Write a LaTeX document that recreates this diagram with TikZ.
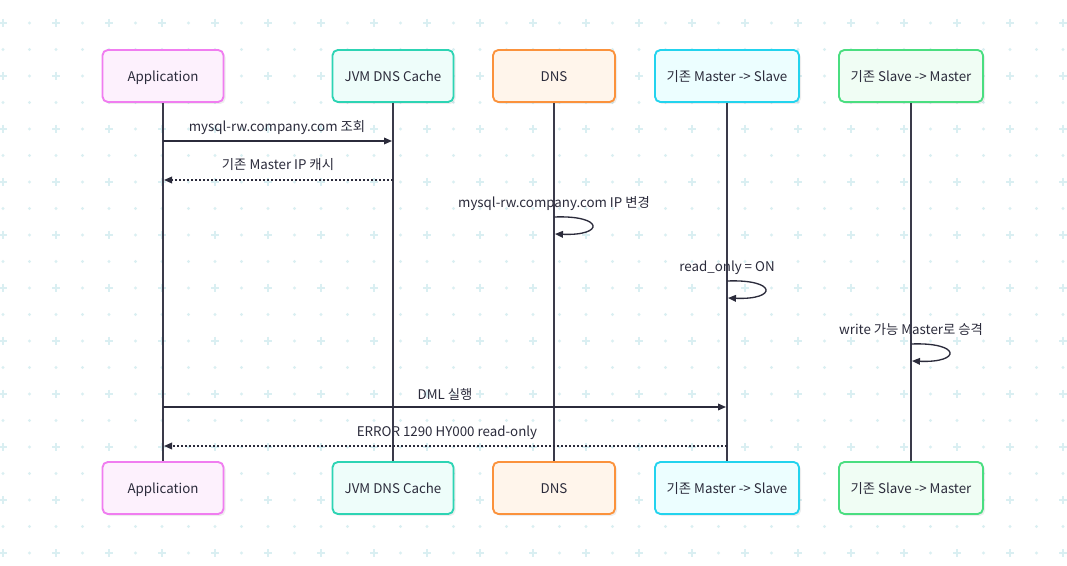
\documentclass[tikz,border=0pt]{standalone}
\usepackage{fontspec}
\setmainfont{Noto Sans CJK KR}
\usetikzlibrary{arrows.meta,shadows}
\definecolor{gridc}{HTML}{DAEFF2}
\definecolor{txt}{HTML}{2B2B3B}
\definecolor{lifec}{HTML}{3A3A4A}
\definecolor{appB}{HTML}{F07DF0}\definecolor{appF}{HTML}{FDF1FD}
\definecolor{jvmB}{HTML}{2DD4B4}\definecolor{jvmF}{HTML}{EEFDFA}
\definecolor{dnsB}{HTML}{FB923C}\definecolor{dnsF}{HTML}{FFF5EB}
\definecolor{msB}{HTML}{22D3EE}\definecolor{msF}{HTML}{ECFEFF}
\definecolor{smB}{HTML}{4ADE80}\definecolor{smF}{HTML}{F0FDF4}
\tikzset{
  actor/.style={draw, line width=1.4pt, rounded corners=4pt, text=txt,
    minimum height=39pt, inner sep=0pt, font=\fontsize{10}{12}\selectfont,
    text depth=0pt, text height=8.5pt,
    drop shadow={shadow xshift=1.5pt, shadow yshift=-1.5pt, fill=black, opacity=0.07}},
  lifeline/.style={draw=lifec, line width=1.2pt},
  msg/.style={draw=txt, line width=1pt, -{Triangle[length=6pt,width=5pt]}},
  reply/.style={msg, dash pattern=on 1.5pt off 1.5pt},
  lbl/.style={text=txt, font=\fontsize{10}{12}\selectfont, inner sep=0pt}
}
\begin{document}
\begin{tikzpicture}[x=0.75pt,y=-0.75pt]
\useasboundingbox (0,0) rectangle (1067,566);
\fill[white] (0,0) rectangle (1067,566);
% background grid
\foreach \i in {0,...,40}{
  \foreach \j in {0,...,20}{
    \pgfmathsetmacro{\px}{3+26.5*\i}
    \pgfmathsetmacro{\py}{23+26.5*\j}
    \pgfmathtruncatemacro{\odd}{mod(\i,2)+mod(\j,2)}
    \ifnum\odd=0
      \draw[gridc, line width=1.2pt] (\px-4,\py) -- (\px+4,\py) (\px,\py-4) -- (\px,\py+4);
    \else
      \fill[gridc] (\px,\py) circle[radius=1.2pt];
    \fi
  }
}
% actors
\node[actor, draw=appB, fill=appF, minimum width=90.75pt] (app) at (163,76) {Application};
\node[actor, draw=jvmB, fill=jvmF, minimum width=90.75pt] (jvm) at (393,76) {JVM DNS Cache};
\node[actor, draw=dnsB, fill=dnsF, minimum width=91.5pt] (dns) at (554,76) {DNS};
\node[actor, draw=msB, fill=msF, minimum width=108pt] (ms) at (727,76) {기존 Master -> Slave};
\node[actor, draw=smB, fill=smF, minimum width=108pt] (sm) at (911,76) {기존 Slave -> Master};
\node[actor, draw=appB, fill=appF, minimum width=90.75pt] (app2) at (163,488) {Application};
\node[actor, draw=jvmB, fill=jvmF, minimum width=90.75pt] (jvm2) at (393,488) {JVM DNS Cache};
\node[actor, draw=dnsB, fill=dnsF, minimum width=91.5pt] (dns2) at (554,488) {DNS};
\node[actor, draw=msB, fill=msF, minimum width=108pt] (ms2) at (727,488) {기존 Master -> Slave};
\node[actor, draw=smB, fill=smF, minimum width=108pt] (sm2) at (911,488) {기존 Slave -> Master};
% labels (under lifelines)
\node[lbl] (l1) at (277,128) {mysql-rw.company.com 조회};
\node[lbl] (l2) at (278,165) {기존 Master IP 캐시};
\node[lbl] (l3) at (554,204) {mysql-rw.company.com IP 변경};
\node[lbl] (l4) at (727,268) {read\_only = ON};
\node[lbl] (l5) at (911,330) {write 가능 Master로 승격};
\node[lbl] (l6) at (445,394) {DML 실행};
\node[lbl] (l7) at (447,433) {ERROR 1290 HY000 read-only};
% lifelines
\foreach \a in {app,jvm,dns,ms,sm}{
  \draw[lifeline] (\a.south) -- (\a2.north);
}
% message anchor points on lifelines
\coordinate (m1a) at (163,141); \coordinate (m1b) at (392,141);
\coordinate (m2a) at (393,180); \coordinate (m2b) at (164,180);
\coordinate (s1a) at (554,217); \coordinate (s1b) at (555,234);
\coordinate (s2a) at (727,281); \coordinate (s2b) at (728,298);
\coordinate (s3a) at (911,344); \coordinate (s3b) at (912,361);
\coordinate (m6a) at (163,407); \coordinate (m6b) at (726,407);
\coordinate (m7a) at (727,446); \coordinate (m7b) at (164,446);
\draw[msg] (m1a) -- (m1b);
\draw[reply] (m2a) -- (m2b);
\draw[msg] (s1a) .. controls +(50,-2) and +(50,2) .. (s1b);
\draw[msg] (s2a) .. controls +(50,-2) and +(50,2) .. (s2b);
\draw[msg] (s3a) .. controls +(50,-2) and +(50,2) .. (s3b);
\draw[msg] (m6a) -- (m6b);
\draw[reply] (m7a) -- (m7b);
\end{tikzpicture}
\end{document}
